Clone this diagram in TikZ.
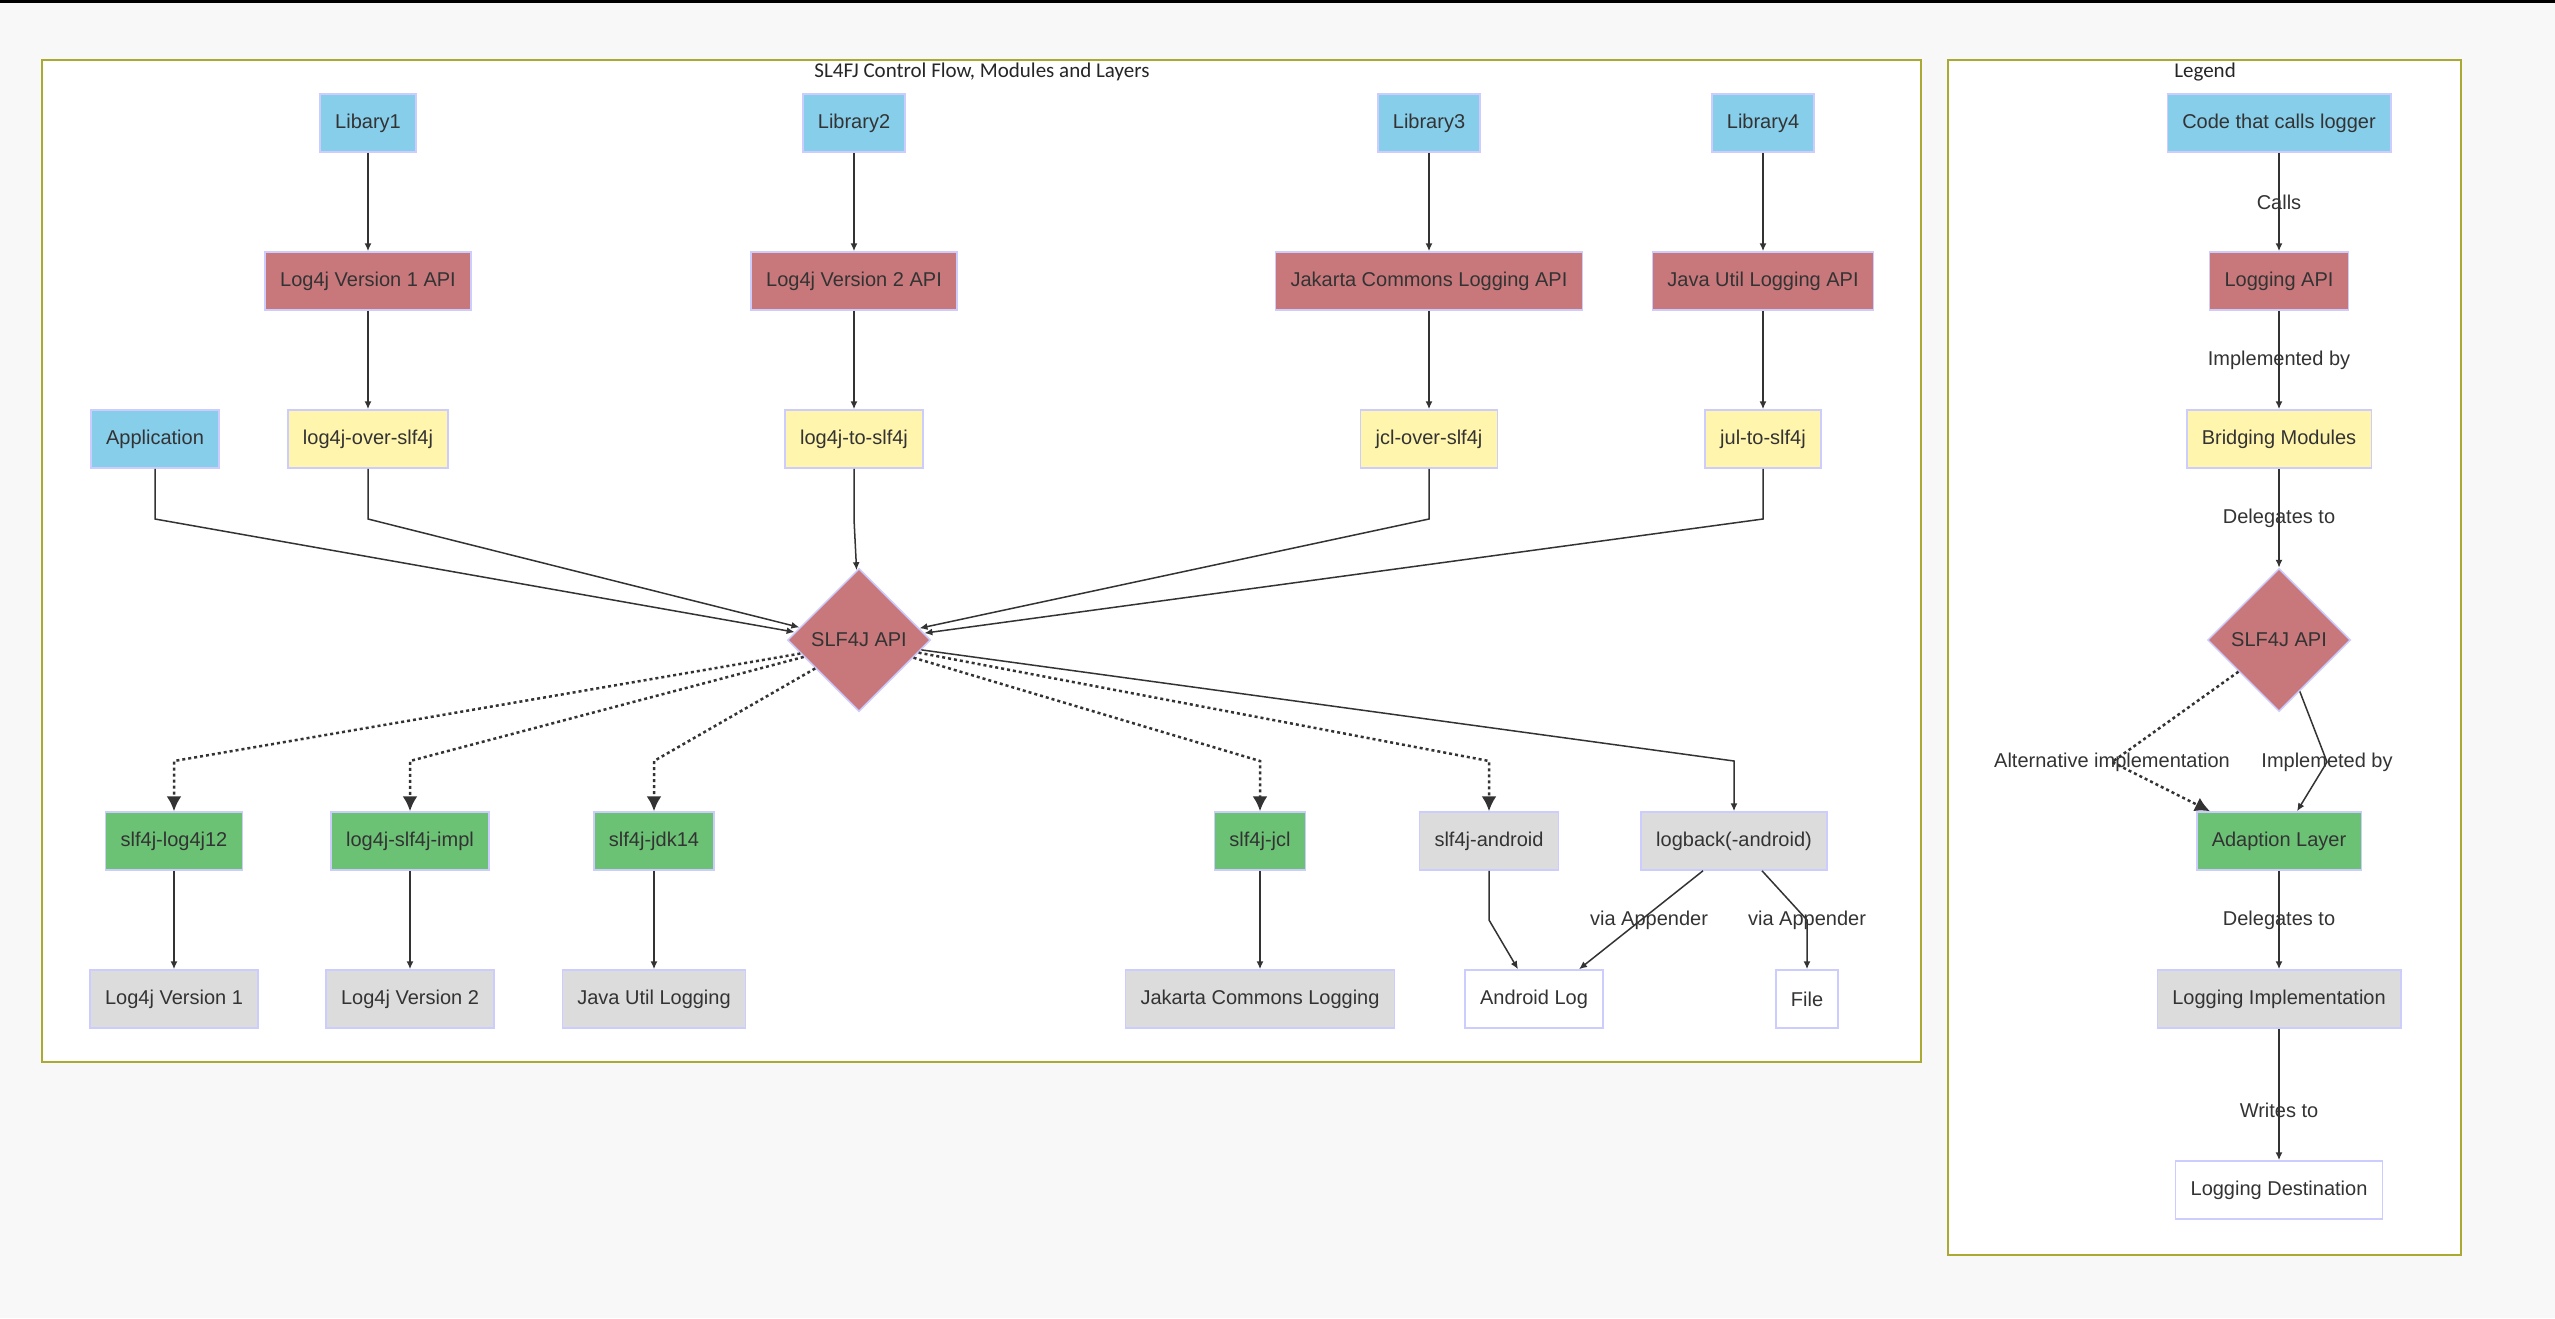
\documentclass[tikz,border=0pt]{standalone}
\usepackage{fontspec}
\setmainfont{Liberation Sans}
\newfontfamily\headfont{Carlito}
\usepackage{tikz}
\usetikzlibrary{arrows.meta,shapes.geometric,positioning}
\definecolor{SkyCall}{HTML}{87CEEB}
\definecolor{ApiRed}{HTML}{C8787B}
\definecolor{BridgeYellow}{HTML}{FFF5AD}
\definecolor{AdaptGreen}{HTML}{6BC274}
\definecolor{ImplGrey}{HTML}{DCDCDC}
\definecolor{NodeEdge}{HTML}{CCCCFF}
\definecolor{PanelEdge}{HTML}{AAAA33}
\definecolor{PageGrey}{HTML}{F8F8F8}
\definecolor{InkGrey}{HTML}{333333}

\begin{document}
\begin{tikzpicture}[
            x=1pt, y=-1pt,
            font=\fontsize{20}{24}\selectfont,
            base/.style={draw=NodeEdge, line width=1.5pt, text=InkGrey, minimum height=58pt, inner xsep=15pt},
            caller/.style={base, fill=SkyCall},
            logapi/.style={base, fill=ApiRed},
            bridge/.style={base, fill=BridgeYellow},
            adapter/.style={base, fill=AdaptGreen},
            backend/.style={base, fill=ImplGrey},
            sink/.style={base, fill=white},
            hub/.style={base, diamond, fill=ApiRed, inner sep=0pt, minimum width=143pt, minimum height=143pt},
            panel/.style={draw=PanelEdge, line width=2pt, fill=white},
            heading/.style={font=\headfont\fontsize{21}{24}\selectfont, text=black!85},
            elabel/.style={text=InkGrey, inner sep=1pt},
            arrow/.style={-{Latex[length=8pt,width=7pt]}, line width=1.5pt, draw=InkGrey},
            arrow2/.style={-{Latex[length=15pt,width=15pt]}, line width=2.5pt, dash pattern=on 3pt off 3pt, draw=InkGrey},
        ]
        \fill[PageGrey] (0,0) rectangle (2555,1318);
        \fill[black] (0,0) rectangle (2555,3);
        \useasboundingbox (0,0) rectangle (2555,1318);

        \draw[panel] (42,60) rectangle (1921,1062);
        \draw[panel] (1948,60) rectangle (2461,1255);
        \node[heading] (maintitle) at (982,72) {SL4FJ Control Flow, Modules and Layers};
        \node[heading] (legendtitle) at (2205,72) {Legend};

        \coordinate (fanin) at (0,519);
        \coordinate (fanout) at (0,761);
        \coordinate (via) at (0,920);

        \node[caller] (lib1) at (368,123) {Libary1};
        \node[caller] (lib2) at (854,123) {Library2};
        \node[caller] (lib3) at (1429,123) {Library3};
        \node[caller] (lib4) at (1763,123) {Library4};

        \node[logapi] (log4j1api) at (368,281) {Log4j Version 1 API};
        \node[logapi] (log4j2api) at (854,281) {Log4j Version 2 API};
        \node[logapi] (jclapi) at (1429,281) {Jakarta Commons Logging API};
        \node[logapi] (julapi) at (1763,281) {Java Util Logging API};

        \node[caller] (app) at (155,439) {Application};
        \node[bridge] (log4jover) at (368,439) {log4j-over-slf4j};
        \node[bridge] (log4jto) at (854,439) {log4j-to-slf4j};
        \node[bridge] (jclover) at (1429,439) {jcl-over-slf4j};
        \node[bridge] (julto) at (1763,439) {jul-to-slf4j};

        \node[hub] (slf4j) at (859,640) {SLF4J API};

        \node[adapter] (log4j12) at (174,841) {slf4j-log4j12};
        \node[adapter] (log4jimpl) at (410,841) {log4j-slf4j-impl};
        \node[adapter] (jdk14) at (654,841) {slf4j-jdk14};
        \node[adapter] (sjcl) at (1260,841) {slf4j-jcl};
        \node[backend] (sandroid) at (1489,841) {slf4j-android};
        \node[backend] (logback) at (1734,841) {logback(-android)};

        \node[backend] (log4jv1) at (174,999) {Log4j Version 1};
        \node[backend] (log4jv2) at (410,999) {Log4j Version 2};
        \node[backend] (jul) at (654,999) {Java Util Logging};
        \node[backend] (jcl) at (1260,999) {Jakarta Commons Logging};
        \node[sink] (androidlog) at (1534,999) {Android Log};
        \node[sink] (file) at (1807,999) {File};

        \draw[arrow] (lib1) -- (log4j1api);
        \draw[arrow] (lib2) -- (log4j2api);
        \draw[arrow] (lib3) -- (jclapi);
        \draw[arrow] (lib4) -- (julapi);
        \draw[arrow] (log4j1api) -- (log4jover);
        \draw[arrow] (log4j2api) -- (log4jto);
        \draw[arrow] (jclapi) -- (jclover);
        \draw[arrow] (julapi) -- (julto);

        \draw[arrow] (app) -- (app |- fanin) -- (slf4j.173);
        \draw[arrow] (log4jover) -- (log4jover |- fanin) -- (slf4j.168);
        \draw[arrow] (log4jto) -- (log4jto |- fanin) -- (slf4j.92);
        \draw[arrow] (jclover) -- (jclover |- fanin) -- (slf4j.11);
        \draw[arrow] (julto) -- (julto |- fanin) -- (slf4j.6);

        \draw[arrow2] (slf4j.193) -- (log4j12 |- fanout) -- (log4j12);
        \draw[arrow2] (slf4j.197) -- (log4jimpl |- fanout) -- (log4jimpl);
        \draw[arrow2] (slf4j.213) -- (jdk14 |- fanout) -- (jdk14);
        \draw[arrow2] (slf4j.342) -- (sjcl |- fanout) -- (sjcl);
        \draw[arrow2] (slf4j.348) -- (sandroid |- fanout) -- (sandroid);
        \draw[arrow] (slf4j.351) -- (logback |- fanout) -- (logback);

        \draw[arrow] (log4j12) -- (log4jv1);
        \draw[arrow] (log4jimpl) -- (log4jv2);
        \draw[arrow] (jdk14) -- (jul);
        \draw[arrow] (sjcl) -- (jcl);
        \draw[arrow] (sandroid) -- (sandroid |- via) -- ([xshift=-16pt]androidlog.north);
        \draw[arrow] ([xshift=-31pt]logback.south) -- node[elabel, pos=0.5, xshift=8pt]{via Appender} ([xshift=45pt]androidlog.north);
        \draw[arrow] ([xshift=28pt]logback.south) -- (file |- via) node[elabel]{via Appender} -- (file);

        \node[caller] (code) at (2279,123) {Code that calls logger};
        \node[logapi] (lapi) at (2279,281) {Logging API};
        \node[bridge] (lbridge) at (2279,439) {Bridging Modules};
        \node[hub] (lslf4j) at (2279,640) {SLF4J API};
        \node[adapter] (ladapt) at (2279,841) {Adaption Layer};
        \node[backend] (limpl) at (2279,999) {Logging Implementation};
        \node[sink] (ldest) at (2279,1190) {Logging Destination};
        \node[elabel] (altlbl) at (2112,762) {Alternative implementation};
        \node[elabel] (implbl) at (2327,762) {Implemeted by};

        \draw[arrow] (code) -- node[elabel]{Calls} (lapi);
        \draw[arrow] (lapi) -- node[elabel]{Implemented by} (lbridge);
        \draw[arrow] (lbridge) -- node[elabel]{Delegates to} (lslf4j);
        \draw[arrow2] (lslf4j.218) -- (altlbl.center) -- ([xshift=-69pt]ladapt.north);
        \draw[arrow] (lslf4j.292) -- (implbl.center) -- ([xshift=18pt]ladapt.north);
        \draw[arrow] (ladapt) -- node[elabel]{Delegates to} (limpl);
        \draw[arrow] (limpl) -- node[elabel, pos=0.62]{Writes to} (ldest);
    \end{tikzpicture}
\end{document}
